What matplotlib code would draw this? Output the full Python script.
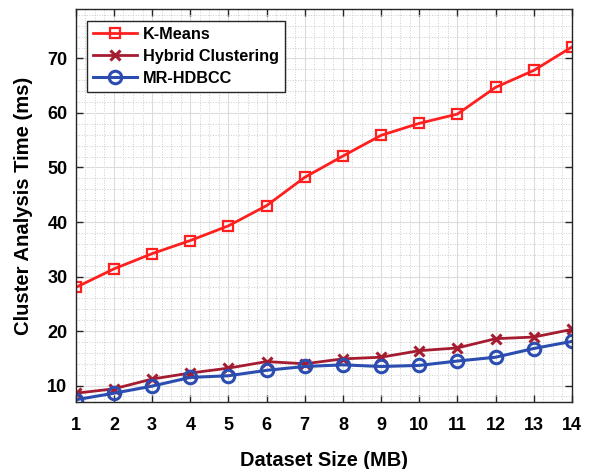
import matplotlib
matplotlib.use('Agg')
import matplotlib.pyplot as plt
from matplotlib.ticker import MultipleLocator

plt.rcParams['font.family'] = ['Liberation Sans', 'DejaVu Sans']
plt.rcParams['font.weight'] = 'bold'

# data
sizes = list(range(1, 15))
kmeans = [28.0, 31.4, 34.2, 36.6, 39.3, 43.0, 48.2, 52.1, 55.9, 58.1, 59.8, 64.7, 67.8, 72.1]
hybrid = [8.6, 9.4, 11.2, 12.3, 13.2, 14.4, 14.0, 14.9, 15.2, 16.4, 16.9, 18.6, 18.9, 20.3]
mrhdbcc = [7.4, 8.6, 9.9, 11.5, 11.8, 12.8, 13.5, 13.8, 13.5, 13.7, 14.5, 15.2, 16.8, 18.1]

fig = plt.figure(figsize=(5.92, 4.69), dpi=100)
ax = fig.add_axes([0.128, 0.143, 0.838, 0.837])

ax.plot(sizes, kmeans, color='#ff1f1f', lw=2, marker='s', ms=7, mfc='none', mew=1.6, label='K-Means')
ax.plot(sizes, hybrid, color='#a51c30', lw=2, marker='x', ms=7, mew=2.2, label='Hybrid Clustering')
ax.plot(sizes, mrhdbcc, color='#2c4db0', lw=2.2, marker='o', ms=9, mfc='none', mew=2.2, label='MR-HDBCC')

ax.set_xlim(1, 14)
ax.set_ylim(7, 79)
ax.set_xticks(sizes)
ax.set_yticks([10, 20, 30, 40, 50, 60, 70])
ax.xaxis.set_minor_locator(MultipleLocator(0.25))
ax.yaxis.set_minor_locator(MultipleLocator(2))
ax.grid(which='major', color='#dcdcdc', linestyle='-', linewidth=0.8)
ax.grid(which='minor', color='#cccccc', linestyle=':', linewidth=0.7)
ax.set_axisbelow(True)

ax.tick_params(which='major', direction='in', top=True, right=True, length=5, width=1,
               color='#262626', labelsize=13)
ax.tick_params(axis='x', which='major', pad=11)
ax.tick_params(axis='y', which='major', pad=6)
ax.tick_params(which='minor', length=0)
for sp in ax.spines.values():
    sp.set_color('#262626')
    sp.set_linewidth(1)

ax.set_xlabel('Dataset Size (MB)', fontsize=14.4, fontweight='bold', labelpad=12)
ax.set_ylabel('Cluster Analysis Time (ms)', fontsize=14.6, fontweight='bold', labelpad=10)

leg = ax.legend(loc='upper left', frameon=True, fancybox=False,
                edgecolor='#262626', framealpha=1, handlelength=2.7,
                borderaxespad=0.7, labelspacing=0.43, handletextpad=0.35,
                borderpad=0.38, prop={'weight': 'bold', 'size': 11.7})
leg.get_frame().set_linewidth(1)

fig.savefig('out.png', dpi=100)
